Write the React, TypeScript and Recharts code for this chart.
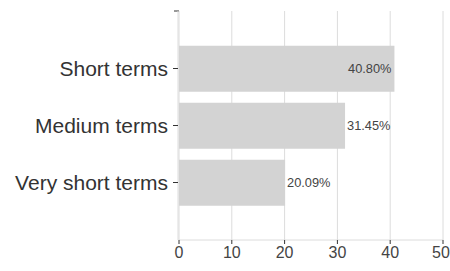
import { BarChart, Bar, XAxis, YAxis, CartesianGrid, LabelList } from 'recharts';

const categories = ['Short terms', 'Medium terms', 'Very short terms'];
const shares = [40.8, 31.45, 20.09];
const xTicks = [0, 10, 20, 30, 40, 50];
const frameTicks = [0, 4];

const data = categories.map((name, i) => ({ name, value: shares[i] }));

const FONT = 'Arial, "Liberation Sans", sans-serif';
const CHART_W = 450;
const RIGHT_MARGIN = 7;

// annotation goes outside the bar unless it would run past the plot area
function ValueLabel(props: any) {
  const { x, y, width, height, value } = props;
  const text = `${Number(value).toFixed(2)}%`;
  const textW = 50;
  const end = x + width;
  const inside = end + 3 + textW > CHART_W - RIGHT_MARGIN;
  return (
    <text
      x={inside ? end - 3 : end + 2}
      y={y + height / 2}
      textAnchor={inside ? 'end' : 'start'}
      dominantBaseline="central"
      fontSize={12.8}
      fontFamily={FONT}
      fill="#444"
    >
      {text}
    </text>
  );
}

// x tick label, last one kept inside the page
function XTick(props: any) {
  const { x, y, payload } = props;
  const last = payload.value === xTicks[xTicks.length - 1];
  return (
    <text
      x={last ? Math.min(x, CHART_W - 9) : x}
      y={y + 12}
      textAnchor="middle"
      fontSize={16}
      fontFamily={FONT}
      fill="#444"
    >
      {payload.value}
    </text>
  );
}

// tick mark only, no label
const NoLabel = () => <g />;

export default function App() {
  return (
    <div style={{ position: 'absolute', left: 0, top: 0, background: '#fff' }}>
      <BarChart
        width={CHART_W}
        height={271}
        data={data}
        layout="vertical"
        margin={{ top: 11, right: RIGHT_MARGIN, left: 0, bottom: 0 }}
        barCategoryGap="10%"
      >
        <CartesianGrid horizontal={false} stroke="#dcdcdc" yAxisId={1} />
        <XAxis
          type="number"
          domain={[0, 50]}
          ticks={xTicks}
          height={31}
          axisLine={{ stroke: '#dcdcdc' }}
          tickLine={{ stroke: '#333' }}
          tickSize={4}
          tick={XTick}
          interval={0}
        />
        {/* frame axis: only the two end tick marks of the vertical axis */}
        <YAxis
          yAxisId={0}
          type="number"
          domain={[0, 4]}
          ticks={frameTicks}
          width={1}
          axisLine={false}
          tick={NoLabel}
          tickLine={{ stroke: '#333' }}
          tickSize={5}
        />
        <YAxis
          yAxisId={1}
          type="category"
          dataKey="name"
          width={178}
          padding={{ top: 29, bottom: 29 }}
          axisLine={{ stroke: '#dcdcdc' }}
          tickLine={{ stroke: '#333' }}
          tickSize={5}
          tickMargin={5}
          tick={{ fill: '#333', fontSize: 21, fontFamily: FONT }}
          interval={0}
        />
        <Bar yAxisId={1} dataKey="value" fill="#d3d3d3" isAnimationActive={false}>
          <LabelList dataKey="value" content={ValueLabel} />
        </Bar>
      </BarChart>
    </div>
  );
}
